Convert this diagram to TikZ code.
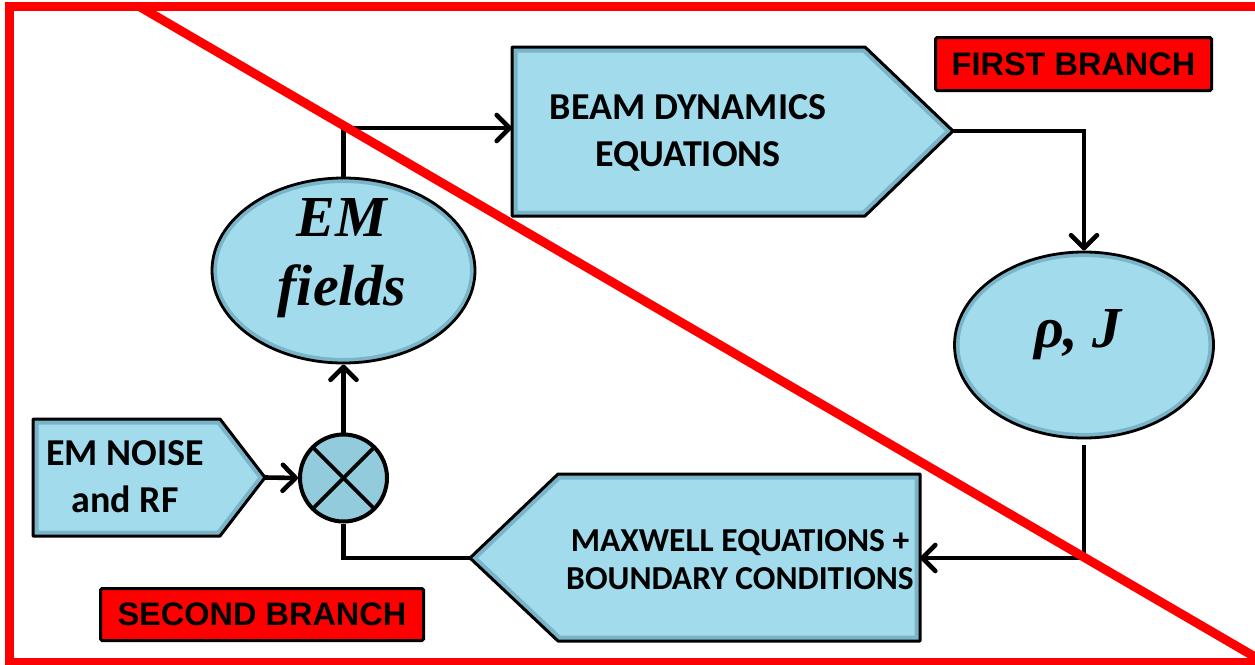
\documentclass[tikz,border=0pt]{standalone}
\usepackage{fontspec}
\usetikzlibrary{shapes.geometric,arrows.meta}
\newfontfamily\calfont{Carlito}
\newfontfamily\arialfont{Liberation Sans}
\newfontfamily\timesfont{Liberation Serif}
\definecolor{boxblue}{RGB}{161,219,236}
\definecolor{bevelblue}{RGB}{122,180,200}
\definecolor{sumblue}{RGB}{146,203,220}
\definecolor{framered}{RGB}{255,0,0}
\begin{document}
\begin{tikzpicture}[x=1pt,y=-1pt,
  conn/.style={line width=4.6pt, black},
  arr/.style={conn, -{Straight Barb[length=13pt,width=26pt,round]}},
  boxfill/.style={fill=boxblue},
  bevel/.style={draw=bevelblue, line width=11pt, line join=round},
  boxline/.style={draw=black, line width=3pt, line join=round},
  ellnode/.style={ellipse, inner sep=0pt, outer sep=1.5pt, fill=boxblue},
  boxtext/.style={font={\calfont\bfseries\fontsize{38}{47}\selectfont}, align=center, inner sep=0pt},
  elltext/.style={font={\timesfont\bfseries\itshape\fontsize{58}{69}\selectfont}, align=center, inner sep=0pt},
  branch/.style={fill=framered, draw=black, line width=3pt, rounded corners=1.5pt, inner sep=0pt,
    font={\arialfont\bfseries\fontsize{32.5}{39}\selectfont}},
  frame/.style={draw=framered, line width=9pt}
]
\useasboundingbox (0,0) rectangle (1255,664);
\clip (0,0) rectangle (1255,664);

% ---- shape corner coordinates
\coordinate (b1) at (512,47);  \coordinate (b2) at (865,47);
\coordinate (btip) at (953,131); \coordinate (b4) at (865,216); \coordinate (b5) at (512,216);
\coordinate (bin) at (512,128);
\coordinate (n1) at (33,419);  \coordinate (n2) at (220,419);
\coordinate (ntip) at (265,477.5); \coordinate (n4) at (220,536); \coordinate (n5) at (33,536);
\coordinate (mtip) at (470,558); \coordinate (m2) at (558,474); \coordinate (m3) at (920,474);
\coordinate (m4) at (920,641); \coordinate (m5) at (558,641);
\coordinate (min) at (920,558);

% ---- beam dynamics box
\begin{scope}
  \clip (b1) -- (b2) -- (btip) -- (b4) -- (b5) -- cycle;
  \path[boxfill] (b1) -- (b2) -- (btip) -- (b4) -- (b5) -- cycle;
  \path[bevel] (b1) -- (b2) -- (btip) -- (b4) -- (b5) -- cycle;
\end{scope}
\path[boxline] (b1) -- (b2) -- (btip) -- (b4) -- (b5) -- cycle;
\node[boxtext] (beam) at (688,133) {BEAM DYNAMICS\\EQUATIONS};

% ---- EM noise box
\begin{scope}
  \clip (n1) -- (n2) -- (ntip) -- (n4) -- (n5) -- cycle;
  \path[boxfill] (n1) -- (n2) -- (ntip) -- (n4) -- (n5) -- cycle;
  \path[bevel] (n1) -- (n2) -- (ntip) -- (n4) -- (n5) -- cycle;
\end{scope}
\path[boxline] (n1) -- (n2) -- (ntip) -- (n4) -- (n5) -- cycle;
\node[boxtext] (noise) at (125,477) {EM NOISE\\and RF};

% ---- Maxwell box
\begin{scope}
  \clip (mtip) -- (m2) -- (m3) -- (m4) -- (m5) -- cycle;
  \path[boxfill] (mtip) -- (m2) -- (m3) -- (m4) -- (m5) -- cycle;
  \path[bevel] (mtip) -- (m2) -- (m3) -- (m4) -- (m5) -- cycle;
\end{scope}
\path[boxline] (mtip) -- (m2) -- (m3) -- (m4) -- (m5) -- cycle;
\node[boxtext, font={\calfont\bfseries\fontsize{33.5}{38}\selectfont}] (maxw) at (740,560)
  {MAXWELL EQUATIONS +\\BOUNDARY CONDITIONS};

% ---- EM fields ellipse
\node[ellnode, minimum width=263pt, minimum height=185pt] (emf) at (343.5,270.5) {};
\begin{scope}
  \clip (emf.center) ellipse [x radius=131.5pt, y radius=92.5pt];
  \draw[bevelblue, line width=10pt] (emf.center) ellipse [x radius=131.5pt, y radius=92.5pt];
\end{scope}
\draw[black, line width=2.8pt] (emf.center) ellipse [x radius=131.5pt, y radius=92.5pt];
\node[elltext] (emftext) at (342,258) {EM\\fields};

% ---- rho, J ellipse
\node[ellnode, minimum width=259pt, minimum height=186pt] (rhoj) at (1084,345) {};
\begin{scope}
  \clip (rhoj.center) ellipse [x radius=129.5pt, y radius=93pt];
  \draw[bevelblue, line width=10pt] (rhoj.center) ellipse [x radius=129.5pt, y radius=93pt];
\end{scope}
\draw[black, line width=2.8pt] (rhoj.center) ellipse [x radius=129.5pt, y radius=93pt];
\node[elltext, anchor=base] (rhojtext) at (1078,347) {ρ, J};

% ---- summing junction
\node[circle, minimum size=87pt, inner sep=0pt, fill=sumblue, draw=black, line width=4pt] (sum) at (343.5,478) {};
\draw[line width=3.8pt] ([shift={(45:43pt)}]sum.center) -- ([shift={(225:43pt)}]sum.center);
\draw[line width=3.8pt] ([shift={(135:43pt)}]sum.center) -- ([shift={(315:43pt)}]sum.center);

% ---- connectors
\draw[arr] (emf.north) |- (bin);
\draw[arr] (btip) -| (rhoj.north);
\draw[arr] ([yshift=-5pt]rhoj.south) |- (min);
\draw[conn] (sum.south) |- (mtip);
\draw[arr] (ntip) -- (sum.west);
\draw[arr] (sum.north) -- (emf.south);

% ---- branch labels
\node[branch, minimum width=276pt, minimum height=53pt] (first) at (1073.5,64) {FIRST BRANCH};
\node[branch, minimum width=323pt, minimum height=52pt] (second) at (262,614.5) {SECOND BRANCH};

% ---- red frame and diagonal
\draw[frame] (9.5,6.5) rectangle (1262,662.5);
\draw[frame] (138.5,6) -- (1262,661);
\end{tikzpicture}
\end{document}
